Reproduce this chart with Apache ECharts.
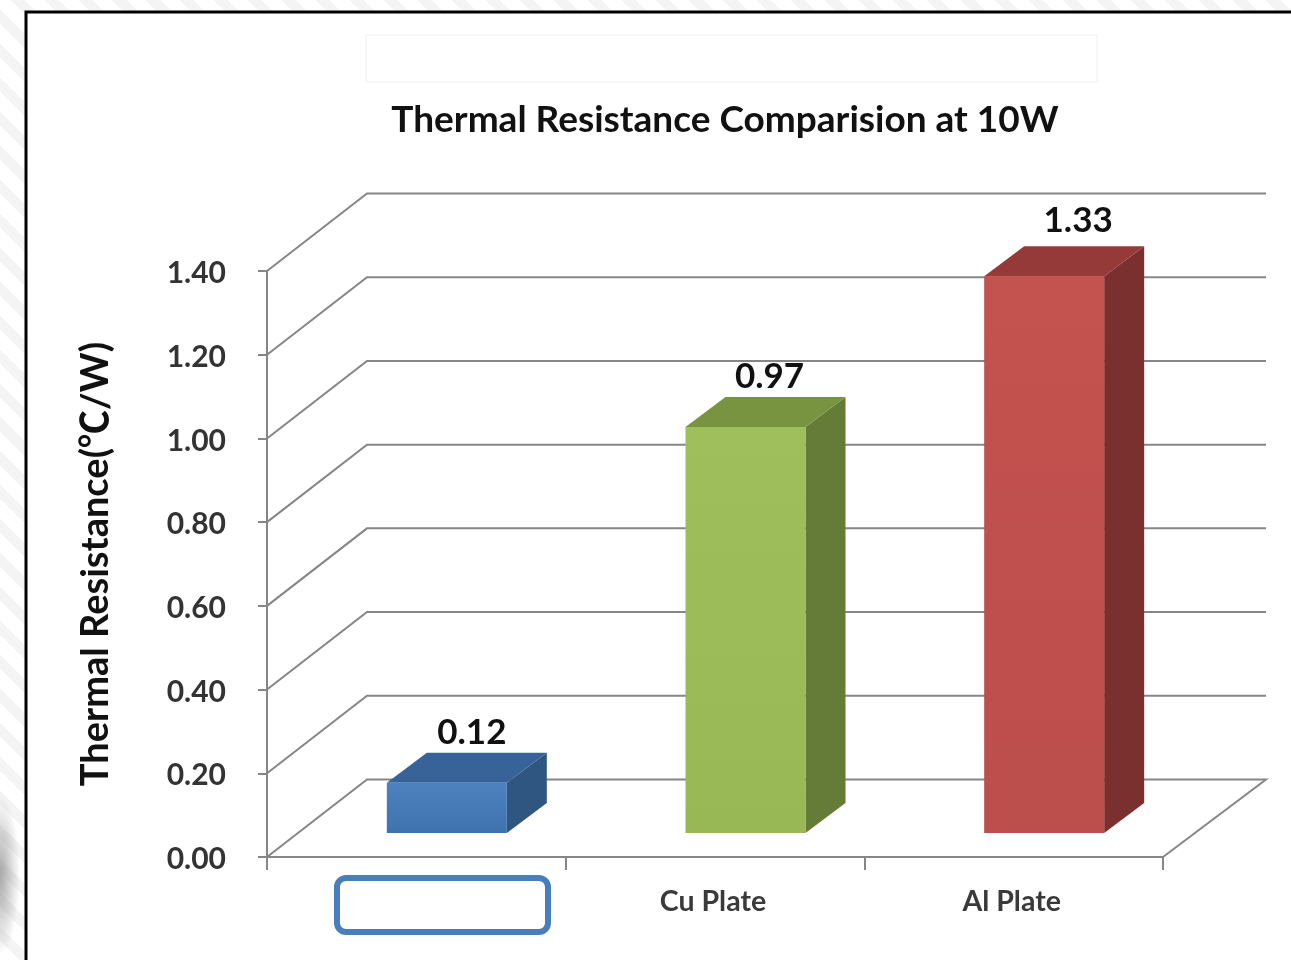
<!DOCTYPE html>
<html>
<head>
<meta charset="utf-8">
<style>
html,body{margin:0;padding:0;width:1291px;height:960px;overflow:hidden;
background:radial-gradient(ellipse 20px 80px at 0 875px,rgba(140,140,140,.75),rgba(170,170,170,0)),
repeating-linear-gradient(45deg,#ffffff 0,#ffffff 14px,#f4f4f4 14px,#f4f4f4 24px);}
#main{width:1291px;height:960px;}
</style>
<script src="https://cdn.jsdelivr.net/npm/echarts@6/dist/echarts.min.js"></script>
</head>
<body>
<div id="main"></div>
<script>
const categories = ['', 'Cu Plate', 'Al Plate'];
const resistance = [0.12, 0.97, 1.33];
const valueLabels = ['0.12', '0.97', '1.33'];
const yTicks = [0, 0.2, 0.4, 0.6, 0.8, 1.0, 1.2, 1.4];
const titleText = 'Thermal Resistance Comparision at 10W';
const yAxisTitle = 'Thermal Resistance(℃/W)';

const FONT = 'Lato, "Noto Sans CJK SC", sans-serif';
const AXIS = '#868686';
const WALL = [100, -77.5];
const BAR = {shift: 30.5, half: 60, lift: -24, dx: 40, dy: -30};
const FACES = [
  {front: ['#4d82c0', '#3f72ad'], top: '#386398', side: '#2f5581'},
  {front: ['#9fbf5c', '#98b856'], top: '#789440', side: '#657c38'},
  {front: ['#c4524f', '#bc4e4b'], top: '#953a38', side: '#7a302e'}
];
const LABEL_NUDGE = [[25, -21], [24, -21], [34, -27]];

const chart = echarts.init(document.getElementById('main'));

function renderWall(params, api) {
  const v = api.value(1);
  const p = api.coord([0, v]);
  const g = params.coordSys;
  const x0 = g.x, y0 = p[1];
  const bx = x0 + WALL[0], by = y0 + WALL[1];
  const rx = g.x + g.width + 103;
  const points = [[x0, y0], [bx, by], [rx, by]];
  if (v === 0) points.push([g.x + g.width, y0]);
  return {
    type: 'polyline',
    shape: {points: points},
    style: {fill: null, stroke: AXIS, lineWidth: 2},
    silent: true
  };
}

function renderBar(params, api) {
  const i = api.value(0);
  const top = api.coord([i, api.value(1)]);
  const base = api.coord([i, 0]);
  const c = top[0] + BAR.shift;
  const l = c - BAR.half, r = c + BAR.half;
  const t = top[1] + BAR.lift, b = base[1] + BAR.lift;
  const f = FACES[i], n = LABEL_NUDGE[i];
  return {
    type: 'group',
    children: [
      {type: 'polygon', shape: {points: [[r, t], [r + BAR.dx, t + BAR.dy], [r + BAR.dx, b + BAR.dy], [r, b]]},
        style: {fill: f.side}},
      {type: 'polygon', shape: {points: [[l, t], [l + BAR.dx, t + BAR.dy], [r + BAR.dx, t + BAR.dy], [r, t]]},
        style: {fill: f.top}},
      {type: 'rect', shape: {x: l, y: t, width: r - l, height: b - t},
        style: {fill: new echarts.graphic.LinearGradient(0, 0, 0, 1, [
          {offset: 0, color: f.front[0]}, {offset: 1, color: f.front[1]}])}},
      {type: 'text', style: {
        x: c + n[0], y: t + BAR.dy + n[1] + 1,
        text: valueLabels[i], font: 'bold 35px ' + FONT, fill: '#111',
        textAlign: 'center', textVerticalAlign: 'middle'}}
    ]
  };
}

chart.setOption({
  backgroundColor: 'transparent',
  animation: false,
  title: {
    text: titleText, left: 720, top: 97, textAlign: 'center',
    textStyle: {fontFamily: FONT, fontWeight: 'bold', fontSize: 37, color: '#111'}
  },
  grid: {left: 267, right: 128, top: 271, bottom: 103},
  xAxis: {
    type: 'category', data: categories,
    axisLine: {lineStyle: {color: AXIS, width: 2}},
    axisTick: {show: true, length: 13, lineStyle: {color: AXIS, width: 2}},
    axisLabel: {margin: 31, padding: [0, 4, 0, 0], fontFamily: FONT, fontWeight: 'bold', fontSize: 28.5, color: '#3a3a3a'},
    splitLine: {show: false}
  },
  yAxis: {
    type: 'value', min: 0, max: 1.4, interval: 0.2,
    name: yAxisTitle, nameLocation: 'middle', nameRotate: 90, nameGap: 152,
    nameTextStyle: {fontFamily: FONT, fontWeight: 'bold', fontSize: 38, color: '#111'},
    axisLine: {show: true, lineStyle: {color: AXIS, width: 2}},
    axisTick: {show: true, length: 9, lineStyle: {color: AXIS, width: 2}},
    axisLabel: {margin: 41, formatter: v => '{n|' + v.toFixed(2) + '}',
      rich: {n: {padding: [5, 0, 0, 0], fontFamily: FONT, fontWeight: 'bold', fontSize: 30, color: '#333'}}},
    splitLine: {show: false}
  },
  series: [
    {type: 'custom', name: 'wall', z: 1, clip: false, renderItem: renderWall,
      encode: {x: 0, y: 1}, data: yTicks.map(v => [0, v])},
    {type: 'custom', name: 'Thermal Resistance', z: 3, clip: false, renderItem: renderBar,
      encode: {x: 0, y: 1}, data: resistance.map((v, i) => [i, v])}
  ],
  graphic: [
    {type: 'rect', z: -10, silent: true, shape: {x: 26, y: 12, width: 1280, height: 960},
      style: {fill: '#fff', stroke: '#000', lineWidth: 3}},
    {type: 'rect', z: -9, silent: true, shape: {x: 366, y: 35, width: 731, height: 47},
      style: {fill: '#fff', stroke: '#f0f0f0', lineWidth: 1}},
    {type: 'rect', z: 10, silent: true, shape: {x: 337, y: 878, width: 211, height: 54, r: 9},
      style: {fill: '#fff', stroke: '#4a7ebb', lineWidth: 6}}
  ]
});
</script>
</body>
</html>
